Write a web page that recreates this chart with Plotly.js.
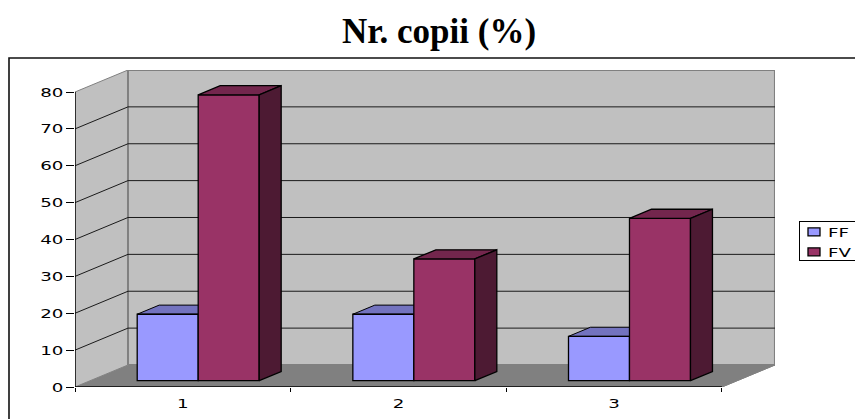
<!DOCTYPE html>
<html>
<head>
<meta charset="utf-8">
<script src="https://cdn.plot.ly/plotly-3.0.1.min.js"></script>
<style>html,body{margin:0;padding:0;background:#fff;overflow:hidden}</style>
</head>
<body>
<div id="chart" style="width:855px;height:419px"></div>
<script>
// Data
var categories = [1, 2, 3];
var seriesNames = ['FF', 'FV'];
var valuesFF = [18, 18, 12];
var valuesFV = [77.5, 33, 44];
var yTicks = [0, 10, 20, 30, 40, 50, 60, 70, 80];
var colorFF = ['#9999FF', '#7373BF', '#5F5FA8'];
var colorFV = ['#993366', '#73264D', '#4D1A33'];

// Oblique projection constants (in axis units)
var WALL_DX = 0.2457, WALL_DY = 5.97;      // full floor depth
var BAR_NEAR = 0.29, BAR_FAR = 0.705;      // bar position within the depth
var BAR_W = 0.2828;
var XMIN = 0.5, XMAX = 3.5;
var RANGE_X = [0.5, 3.746], RANGE_Y = [0, 85.97];

function P(x, v, d) { return [x + d * WALL_DX, v + d * WALL_DY]; }
function poly(pts) {
  var xs = [], ys = [];
  pts.forEach(function (p) { xs.push(p[0]); ys.push(p[1]); });
  return {x: xs, y: ys};
}
function concatPaths(paths) {
  var xs = [], ys = [];
  paths.forEach(function (p) {
    xs = xs.concat(p.x, [p.x[0], null]);
    ys = ys.concat(p.y, [p.y[0], null]);
  });
  return {x: xs, y: ys};
}
function fillTrace(paths, fill, lineColor, lineWidth, xa, ya) {
  var c = concatPaths(paths);
  return {type: 'scatter', mode: 'lines', x: c.x, y: c.y, fill: 'toself', fillcolor: fill,
    line: {color: lineColor, width: lineWidth}, hoverinfo: 'skip', showlegend: false,
    cliponaxis: false, xaxis: xa, yaxis: ya};
}
function lineTrace(segs, color, width) {
  var xs = [], ys = [];
  segs.forEach(function (s) {
    xs.push(s[0][0], s[1][0], null);
    ys.push(s[0][1], s[1][1], null);
  });
  return {type: 'scatter', mode: 'lines', x: xs, y: ys, line: {color: color, width: width},
    hoverinfo: 'skip', showlegend: false, cliponaxis: false, xaxis: 'x', yaxis: 'y'};
}

var topV = yTicks[yTicks.length - 1];
var traces = [];

// Walls and floor
traces.push(fillTrace([poly([P(XMIN,0,0),P(XMIN,0,1),P(XMIN,topV,1),P(XMIN,topV,0)])], '#C0C0C0', 'rgba(0,0,0,0)', 0, 'x', 'y'));
traces.push(fillTrace([poly([P(XMIN,0,1),P(XMAX,0,1),P(XMAX,topV,1),P(XMIN,topV,1)])], '#C0C0C0', '#808080', 2, 'x', 'y'));
traces.push(fillTrace([poly([P(XMIN,0,0),P(XMAX,0,0),P(XMAX,0,1),P(XMIN,0,1)])], '#808080', '#808080', 1, 'x', 'y'));

// Gridlines
var grid = [];
yTicks.slice(1, -1).forEach(function (v) {
  grid.push([P(XMIN,v,0), P(XMIN,v,1)]);
  grid.push([P(XMIN,v,1), P(XMAX,v,1)]);
});
traces.push(lineTrace(grid, '#1a1a1a', 1));
traces.push(lineTrace([[P(XMIN,topV,0), P(XMIN,topV,1)]], '#808080', 1));
traces.push(lineTrace([[P(XMAX,0,0), P(XMAX,0,1)]], '#808080', 1));
// Axis lines
traces.push(lineTrace([[P(XMIN,0,0), P(XMIN,topV,0)], [P(XMIN,0,0), P(XMAX,0,0)]], '#000', 1.5));

function barX(i, s) { return categories[i] + BAR_NEAR * WALL_DX + (s === 0 ? -BAR_W / 2 : BAR_W / 2); }
var baseV = BAR_NEAR * WALL_DY;

function faces(vals, s) {
  var tops = [], sides = [];
  vals.forEach(function (v, i) {
    var c = barX(i, s), l = c - BAR_W / 2, r = c + BAR_W / 2, h = v;
    var a = function (x, val, d) {
      var xx = x + (d - BAR_NEAR) * WALL_DX, yy = val + baseV + (d - BAR_NEAR) * WALL_DY;
      return [xx, yy];
    };
    tops.push(poly([a(l,h,BAR_NEAR),a(r,h,BAR_NEAR),a(r,h,BAR_FAR),a(l,h,BAR_FAR)]));
    sides.push(poly([a(r,0,BAR_NEAR),a(r,h,BAR_NEAR),a(r,h,BAR_FAR),a(r,0,BAR_FAR)]));
  });
  return {tops: tops, sides: sides};
}

// FF depth faces stay behind every front face
var fFF = faces(valuesFF, 0), fFV = faces(valuesFV, 1);
traces.push(fillTrace(fFF.tops, colorFF[1], '#000', 1, 'x', 'y'));

function barTrace(name, vals, s, color) {
  return {type: 'bar', name: name, x: categories.map(function (c, i) { return barX(i, s); }),
    y: vals, base: baseV, width: BAR_W, xaxis: 'x2', yaxis: 'y2',
    marker: {color: color, line: {color: '#000', width: 1.3}}, hoverinfo: 'skip'};
}
traces.push(barTrace(seriesNames[0], valuesFF, 0, colorFF[0]));
traces.push(barTrace(seriesNames[1], valuesFV, 1, colorFV[0]));
traces.push(fillTrace(fFV.tops, colorFV[1], '#000', 1.3, 'x2', 'y2'));
traces.push(fillTrace(fFV.sides, colorFV[2], '#000', 1.3, 'x2', 'y2'));

var tickFont = {family: '"DejaVu Sans", sans-serif', size: 13, color: '#000'};
var layout = {
  width: 855, height: 419,
  margin: {l: 75, r: 80, t: 70, b: 32, pad: 0},
  paper_bgcolor: '#fff', plot_bgcolor: 'rgba(0,0,0,0)',
  barmode: 'overlay',
  title: {text: '<b>Nr. copii (%)</b>', font: {family: '"Liberation Serif", serif', size: 35, color: '#000'},
    xref: 'container', yref: 'container', x: 439 / 855, xanchor: 'center', y: 1 - 31 / 419, yanchor: 'middle'},
  xaxis: {range: RANGE_X, tickmode: 'array', tickvals: [0.5, 1.5, 2.5, 3.5], ticktext: ['', '', '', ''],
    ticks: 'outside', ticklen: 4, tickcolor: '#000', tickwidth: 1, showgrid: false, zeroline: false, showline: false, fixedrange: true},
  yaxis: {range: RANGE_Y, tickmode: 'array', tickvals: yTicks, ticktext: yTicks.map(String),
    ticks: 'outside', ticklen: 8, tickcolor: '#000', tickwidth: 1, showgrid: false, zeroline: false, showline: false,
    tickfont: tickFont, fixedrange: true},
  xaxis2: {overlaying: 'x', anchor: 'y2', side: 'bottom', range: RANGE_X, tickmode: 'array', tickvals: categories,
    ticktext: categories.map(String), ticks: '', ticklabelstandoff: 7, tickfont: tickFont, showgrid: false, zeroline: false, showline: false, fixedrange: true},
  yaxis2: {overlaying: 'y', anchor: 'x2', range: RANGE_Y, visible: false, fixedrange: true},
  legend: {xref: 'container', yref: 'container', x: 1, xanchor: 'right', y: 1 - 221 / 419, yanchor: 'top', bgcolor: '#fff', bordercolor: '#000', borderwidth: 1,
    font: tickFont, itemwidth: 30, tracegroupgap: 0, traceorder: 'normal'},
  shapes: [{type: 'rect', xref: 'paper', yref: 'paper', x0: -66 / 700, x1: 790 / 700, y0: -40 / 317, y1: 329 / 317,
    line: {color: '#111', width: 1.6}, fillcolor: 'rgba(0,0,0,0)', layer: 'below'}]
};

// The reference's small text is stretched sideways; stretch real SVG text the same way.
function stretch(el, k) {
  var w = el.getComputedTextLength();
  el.setAttribute('textLength', (w * k).toFixed(1));
  el.setAttribute('lengthAdjust', 'spacingAndGlyphs');
}
Plotly.newPlot('chart', traces, layout, {displayModeBar: false, responsive: false}).then(function (gd) {
  gd.querySelectorAll('.ytick text, .x2tick text, .xtick text').forEach(function (t) { stretch(t, 1.4); });
  var leg = gd.querySelector('.legend');
  if (leg) {
    leg.setAttribute('transform', 'translate(799,221)');
    var bg = leg.querySelector('rect.bg');
    bg.setAttribute('width', 70);
    bg.setAttribute('height', 39);
    var gr = leg.querySelector('.groups');
    if (gr) gr.setAttribute('transform', 'translate(0,-5)');
    var sb = leg.querySelector('.scrollbox');
    if (sb) sb.removeAttribute('clip-path');
    leg.querySelectorAll('.legendpoints path').forEach(function (p) {
      p.setAttribute('d', 'M6,4H-6V-4H6Z');
      p.setAttribute('transform', 'translate(14,0)');
    });
    leg.querySelectorAll('.legendtext').forEach(function (t) {
      t.setAttribute('x', 28);
      stretch(t, 1.4);
    });
  }
});
</script>
</body>
</html>
